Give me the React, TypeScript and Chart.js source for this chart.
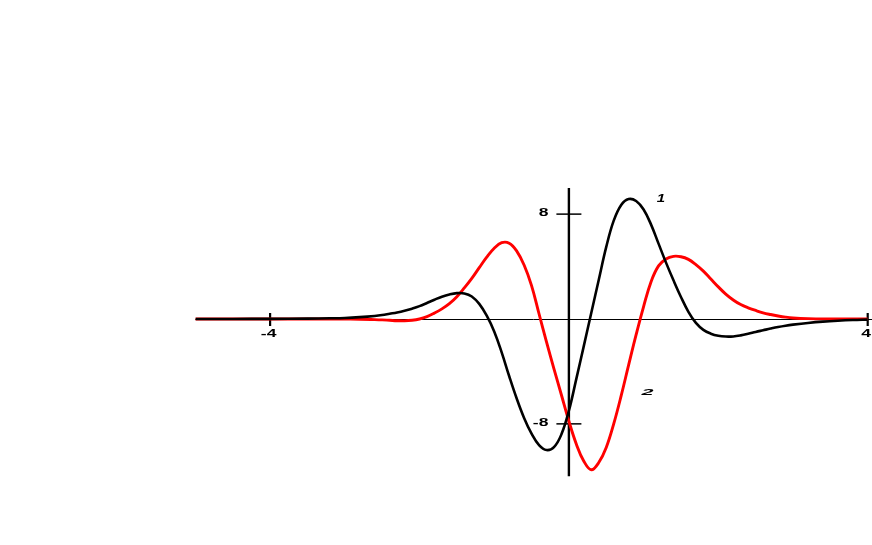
import { useEffect, useRef } from 'react';
import { Chart, registerables } from 'chart.js';

Chart.register(...registerables);

// Curve 1 (black)
const curve1X = [-5, -4.5, -4, -3.5, -3.2, -3.0, -2.8, -2.6, -2.5, -2.4, -2.3, -2.2, -2.1, -2.0, -1.9, -1.8, -1.7, -1.6, -1.5, -1.4, -1.3, -1.2, -1.1, -1.0, -0.9, -0.8, -0.7, -0.6, -0.5, -0.4, -0.3, -0.2, -0.1, 0.0, 0.1, 0.2, 0.3, 0.4, 0.5, 0.6, 0.7, 0.8, 0.9, 1.0, 1.1, 1.2, 1.3, 1.4, 1.5, 1.6, 1.7, 1.8, 1.9, 2.0, 2.1, 2.2, 2.3, 2.4, 2.5, 2.6, 2.7, 2.8, 2.9, 3.0, 3.2, 3.4, 3.6, 3.8, 4.0];
const curve1Y = [0.0, 0.004, 0.01, 0.03, 0.055, 0.08, 0.14, 0.23, 0.3, 0.4, 0.5, 0.63, 0.79, 0.98, 1.22, 1.47, 1.7, 1.87, 1.97, 1.95, 1.72, 1.15, 0.25, -0.95, -2.55, -4.35, -6.05, -7.55, -8.75, -9.62, -10.0, -9.78, -8.8, -7.0, -4.55, -2.05, 0.48, 3.0, 5.5, 7.5, 8.7, 9.15, 9.0, 8.35, 7.2, 5.75, 4.3, 2.95, 1.68, 0.55, -0.3, -0.83, -1.12, -1.28, -1.34, -1.33, -1.25, -1.13, -0.99, -0.86, -0.73, -0.61, -0.51, -0.43, -0.3, -0.2, -0.13, -0.08, -0.05];

// Curve 2 (red)
const curve2X = [-5, -4, -3.2, -3.0, -2.8, -2.6, -2.5, -2.4, -2.3, -2.2, -2.1, -2.0, -1.9, -1.8, -1.7, -1.6, -1.5, -1.4, -1.3, -1.2, -1.1, -1.0, -0.9, -0.8, -0.7, -0.6, -0.5, -0.4, -0.3, -0.2, -0.1, 0.0, 0.1, 0.2, 0.3, 0.4, 0.5, 0.6, 0.7, 0.8, 0.9, 1.0, 1.1, 1.2, 1.3, 1.4, 1.5, 1.6, 1.7, 1.8, 1.9, 2.0, 2.1, 2.2, 2.3, 2.4, 2.5, 2.6, 2.7, 2.8, 2.9, 3.0, 3.2, 3.5, 4.0];
const curve2Y = [0.0, 0.0, 0.0, -0.01, -0.02, -0.05, -0.07, -0.1, -0.13, -0.14, -0.1, 0.0, 0.18, 0.45, 0.77, 1.17, 1.7, 2.37, 3.1, 3.92, 4.72, 5.4, 5.82, 5.78, 5.2, 4.12, 2.55, 0.4, -1.75, -3.8, -5.8, -7.8, -9.55, -10.85, -11.5, -10.95, -9.8, -8.0, -5.85, -3.5, -1.2, 0.95, 2.85, 4.05, 4.58, 4.78, 4.75, 4.55, 4.15, 3.65, 3.05, 2.45, 1.9, 1.45, 1.1, 0.85, 0.65, 0.47, 0.34, 0.23, 0.14, 0.08, 0.03, 0.01, 0.0];

const xTicks = [-4, 4];
const xTickLabels = ['-4', '4'];
const yTicks = [8, -8];
const yTickLabels = ['8', '-8'];
const seriesLabels = ['1', '2'];

const X_MIN = -5;
const X_MAX = 4;
const Y_MIN = -12;
const Y_MAX = 10;

function stretchedText(ctx: CanvasRenderingContext2D, text: string, x: number, y: number, font: string, sx: number, align: CanvasTextAlign) {
  ctx.save();
  ctx.font = font;
  ctx.fillStyle = '#000';
  ctx.textBaseline = 'middle';
  ctx.translate(x, y);
  ctx.scale(sx, 1);
  ctx.textAlign = align;
  ctx.fillText(text, 0, 0);
  ctx.restore();
}

const axesPlugin = {
  id: 'centerAxes',
  beforeDatasetsDraw(chart: any) {
    const ctx: CanvasRenderingContext2D = chart.ctx;
    const xs = chart.scales.x;
    const ys = chart.scales.y;
    const x0 = xs.getPixelForValue(0);
    const y0 = Math.round(ys.getPixelForValue(0)) + 0.5;
    ctx.save();
    ctx.strokeStyle = '#000';
    // horizontal axis
    ctx.lineWidth = 1;
    ctx.beginPath();
    ctx.moveTo(xs.getPixelForValue(X_MIN), y0);
    ctx.lineTo(chart.width, y0);
    ctx.stroke();
    // vertical axis
    ctx.lineWidth = 2.4;
    ctx.beginPath();
    ctx.moveTo(x0, ys.getPixelForValue(Y_MAX));
    ctx.lineTo(x0, ys.getPixelForValue(Y_MIN));
    ctx.stroke();
    // x ticks
    ctx.lineWidth = 2.2;
    xTicks.forEach((v) => {
      const px = xs.getPixelForValue(v);
      ctx.beginPath();
      ctx.moveTo(px, y0 - 6.5);
      ctx.lineTo(px, y0 + 6.5);
      ctx.stroke();
    });
    // y ticks
    ctx.lineWidth = 1.5;
    yTicks.forEach((v) => {
      const py = ys.getPixelForValue(v);
      ctx.beginPath();
      ctx.moveTo(x0 - 12.5, py);
      ctx.lineTo(x0 + 12.5, py);
      ctx.stroke();
    });
    ctx.restore();
  },
  afterDatasetsDraw(chart: any) {
    const ctx: CanvasRenderingContext2D = chart.ctx;
    const xs = chart.scales.x;
    const ys = chart.scales.y;
    const x0 = xs.getPixelForValue(0);
    const y0 = ys.getPixelForValue(0);
    const tickFont = 'bold 10px "Liberation Sans", Arial, sans-serif';
    xTicks.forEach((v, i) => {
      const px = xs.getPixelForValue(v);
      stretchedText(ctx, xTickLabels[i], px - 1.5, y0 + 15, tickFont, 1.75, 'center');
    });
    yTicks.forEach((v, i) => {
      const py = ys.getPixelForValue(v);
      stretchedText(ctx, yTickLabels[i], x0 - 20.5, py - 1, tickFont, 1.75, 'right');
    });
    // curve labels
    stretchedText(ctx, seriesLabels[0], xs.getPixelForValue(1.233), ys.getPixelForValue(9.11), 'italic bold 10px "Liberation Sans", Arial, sans-serif', 1.5, 'center');
    stretchedText(ctx, seriesLabels[1], xs.getPixelForValue(1.052), ys.getPixelForValue(-5.64), 'italic bold 9px "Liberation Sans", Arial, sans-serif', 2.4, 'center');
  },
};

export default function App() {
  const canvasRef = useRef<HTMLCanvasElement | null>(null);

  useEffect(() => {
    if (!canvasRef.current) return;
    const chart = new Chart(canvasRef.current, {
      type: 'line',
      data: {
        datasets: [
          {
            label: seriesLabels[0],
            data: curve1X.map((x, i) => ({ x, y: curve1Y[i] })),
            borderColor: '#000000',
            borderWidth: 2.6,
            pointRadius: 0,
            fill: false,
            tension: 0.4,
          },
          {
            label: seriesLabels[1],
            data: curve2X.map((x, i) => ({ x, y: curve2Y[i] })),
            borderColor: '#ff0000',
            borderWidth: 2.9,
            pointRadius: 0,
            fill: false,
            tension: 0.4,
          },
        ],
      },
      options: {
        animation: false,
        responsive: true,
        maintainAspectRatio: false,
        layout: { padding: { left: 195.4, right: 4.3, top: 187.9, bottom: 68.7 } },
        plugins: { legend: { display: false }, tooltip: { enabled: false }, title: { display: false } },
        scales: {
          x: { type: 'linear', min: X_MIN, max: X_MAX, display: false },
          y: { type: 'linear', min: Y_MIN, max: Y_MAX, display: false },
        },
      },
      plugins: [axesPlugin],
    });
    return () => chart.destroy();
  }, []);

  return (
    <div style={{ position: 'fixed', left: 0, top: 0, width: 872, height: 545, background: '#fff' }}>
      <canvas ref={canvasRef} />
    </div>
  );
}
